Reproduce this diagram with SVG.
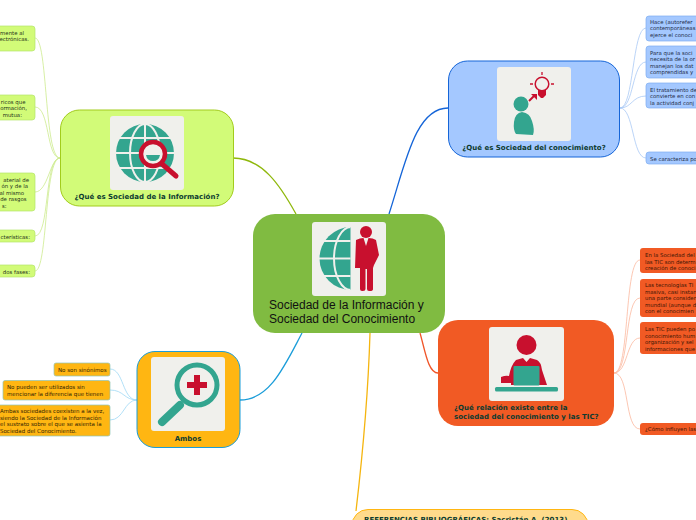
<svg xmlns="http://www.w3.org/2000/svg" width="696" height="520" viewBox="0 0 696 520">
<style>
text{font-family:"DejaVu Sans",Verdana,sans-serif}
.t{font-size:7px;font-weight:bold;fill:#0d3b30}
.k{font-size:5.4px;fill:#263218}
.kb{font-size:5.4px;fill:#222c48}
.ko{font-size:5.4px;fill:#3e1604}
.ka{font-size:5.5px;fill:#332503}
.m{font-family:"Liberation Sans",Arial,sans-serif;font-size:12px;fill:#111}
.c{fill:none;stroke-width:1.3}
.p{fill:none;stroke-width:.8}
.bg{fill:#f0f0ec}
.te{fill:#33a58f}
.re{fill:#c8102e}
.ln{fill:none;stroke:#f0f0ec}
.kg{fill:#d2fb78;stroke:#b5e56a;stroke-width:.7}
.kl{fill:#a4c8ff;stroke:#7eaef0;stroke-width:.7}
.kr{fill:#f15a24}
.ky{fill:#ffb612;stroke:#8fc4b8;stroke-width:.7}
</style>
<defs>
<clipPath id="gc2"><path d="M312 222H350.500V296H312Z"/></clipPath>
</defs>
<rect width="696" height="520" fill="#fff"/>
<g id="connectors">
<path class="c" stroke="#8fb80c" d="M296 214C280 185 262 158 233 158"/>
<path class="c" stroke="#1565d8" d="M389 214C405 165 415 108 448 108"/>
<path class="c" stroke="#1b9dd9" d="M302 333C285 365 270 400 240 400"/>
<path class="c" stroke="#f5b50f" d="M370 333C368 400 362 460 356 511"/>
<path class="c" stroke="#f0562a" d="M420 333C425 350 428 373 438 373"/>
<g stroke="#cdeb8e">
<path class="p" d="M60 158C44 158 48 38 35 38"/>
<path class="p" d="M60 158C46 158 50 107 35 107"/>
<path class="p" d="M60 158C50 158 48 192 35 192"/>
<path class="p" d="M60 158C44 158 50 236 35 236"/>
<path class="p" d="M60 158C44 158 48 271 35 271"/>
</g>
<g stroke="#9ed8f5">
<path class="p" d="M137 400C122 400 124 369 110 369"/>
<path class="p" d="M137 400C124 400 124 390 110 390"/>
<path class="p" d="M137 400C124 400 124 420 110 420"/>
</g>
<g stroke="#a9c9f5">
<path class="p" d="M620 108C634 108 632 28 646 28"/>
<path class="p" d="M620 108C634 108 632 62 646 62"/>
<path class="p" d="M620 108C632 108 632 96 646 96"/>
<path class="p" d="M620 108C634 108 632 158 646 158"/>
</g>
<g stroke="#fbb9a0">
<path class="p" d="M614 373C630 373 624 260 640 260"/>
<path class="p" d="M614 373C630 373 624 298 640 298"/>
<path class="p" d="M614 373C628 373 626 338 640 338"/>
<path class="p" d="M614 373C630 373 624 429 640 429"/>
</g>
</g>
<g id="center">
<rect x="253" y="214" width="192" height="119" rx="22" fill="#80bb41"/>
<rect class="bg" x="312" y="222" width="74" height="74" rx="3"/>
<g clip-path="url(#gc2)">
<circle class="te" cx="351" cy="258.500" r="31.500"/>
<ellipse class="ln" cx="351" cy="258.500" rx="17" ry="31.500" stroke-width="2"/>
<path class="ln" stroke-width="2" d="M315 241H351M315 258.500H351M315 276H351"/>
</g>
<circle class="re" cx="366" cy="232" r="6"/>
<path class="re" d="M356 240Q360 238 363.500 238L366 246 368.500 238Q373 238 376 240L379 255 374 265 373 268V289Q373 291 370 291H369Q367 291 367 289V269H365.500V289Q365.500 291 363 291H362Q360 291 360 289V268H355Z"/>
<text class="m" x="269" y="309">Sociedad de la Información y</text>
<text class="m" x="269" y="323">Sociedad del Conocimiento</text>
</g>
<g id="info">
<rect x="60.500" y="110" width="173" height="96" rx="19" fill="#d2fb78" stroke="#a2cc1c"/>
<rect class="bg" x="110" y="116" width="74" height="74" rx="3"/>
<circle class="te" cx="145" cy="153" r="29"/>
<ellipse class="ln" cx="145" cy="153" rx="15" ry="29" stroke-width="2"/>
<path class="ln" stroke-width="2" d="M145 124V182M116 138H174M116 153H174M116 168H174"/>
<circle cx="153" cy="154" r="12" fill="#f0f0ec" stroke="#c8102e" stroke-width="4.500"/>
<path d="M146 155H160Q159 161 153 161Q147 161 146 155Z" fill="#33a58f"/>
<path d="M162 164L176 176" stroke="#c8102e" stroke-width="5" stroke-linecap="round"/>
<text class="t" x="147" y="199" text-anchor="middle">¿Qué es Sociedad de la Información?</text>
</g>
<g id="info-1"><rect class="kg" x="-10" y="26" width="45" height="25" rx="3"/>
<text class="k" text-anchor="end" x="24" y="35">mente al</text><text class="k" text-anchor="end" x="29" y="40.500">ectrónicas.</text></g>
<g id="info-2"><rect class="kg" x="-10" y="95" width="45" height="25" rx="3"/>
<text class="k" text-anchor="end" x="25.500" y="104">ricos que</text><text class="k" text-anchor="end" x="27" y="110">ormación,</text><text class="k" text-anchor="end" x="22" y="116.500">mutua:</text></g>
<g id="info-3"><rect class="kg" x="-10" y="173" width="45" height="38" rx="3"/>
<text class="k" text-anchor="end" x="29" y="181.500">aterial de</text><text class="k" text-anchor="end" x="28" y="188">ón y de la</text><text class="k" text-anchor="end" x="24" y="194.500">al mismo</text><text class="k" text-anchor="end" x="26.500" y="201">de rasgos</text><text class="k" text-anchor="end" x="6.500" y="207.500">s:</text></g>
<g id="info-4"><rect class="kg" x="-10" y="230" width="45" height="12" rx="3"/>
<text class="k" text-anchor="end" x="30" y="238.500">cterísticas:</text></g>
<g id="info-5"><rect class="kg" x="-10" y="265" width="45" height="12" rx="3"/>
<text class="k" text-anchor="end" x="30" y="274">dos fases:</text></g>
<g id="know">
<rect x="448.500" y="61" width="171" height="96" rx="19" fill="#a4c8ff" stroke="#1565d8"/>
<rect class="bg" x="497" y="67" width="74" height="74" rx="3"/>
<circle class="te" cx="521" cy="104" r="7.500"/>
<path class="te" d="M522 112Q530 113 532 121Q535 130 533 135L516 134Q513 130 514 122Q515 113 522 112Z"/>
<circle cx="542" cy="84" r="6.800" fill="none" stroke="#c8102e" stroke-width="1.500"/>
<path class="re" d="M538 90H546V95L543 98H541L538 95Z"/>
<path stroke="#c8102e" stroke-width="1.300" d="M542 72V75M530 84H533M551 84H554"/>
<path stroke="#c8102e" stroke-width="2" d="M529 101L534 96"/>
<path class="re" d="M531 94H537V100Z"/>
<text class="t" x="534" y="150" text-anchor="middle">¿Qué es Sociedad del conocimiento?</text>
</g>
<g id="know-1"><rect class="kl" x="646" y="16" width="60" height="25" rx="3"/>
<text class="kb" x="650" y="24">Hace (autorefer</text><text class="kb" x="650" y="30">contemporáneas</text><text class="kb" x="650" y="36.500">ejerce el conoci</text></g>
<g id="know-2"><rect class="kl" x="646" y="46" width="60" height="32" rx="3"/>
<text class="kb" x="650" y="54.500">Para que la soci</text><text class="kb" x="650" y="61">necesita de la or</text><text class="kb" x="650" y="67.500">manejan los dat</text><text class="kb" x="650" y="74">comprendidas y</text></g>
<g id="know-3"><rect class="kl" x="646" y="83" width="60" height="25" rx="3"/>
<text class="kb" x="650" y="92">El tratamiento de</text><text class="kb" x="650" y="98">convierte en con</text><text class="kb" x="650" y="105">la actividad conj</text></g>
<g id="know-4"><rect class="kl" x="646" y="152" width="60" height="12" rx="3"/>
<text class="kb" x="650" y="161">Se caracteriza po</text></g>
<g id="tic">
<rect x="438" y="320" width="176" height="106" rx="20" fill="#f15a24"/>
<rect class="bg" x="489" y="327" width="75" height="74" rx="3"/>
<circle class="re" cx="526.500" cy="345" r="10"/>
<path class="re" d="M516 360L523 358 526.500 362 530 358 537 360Q541 362 542 370L547 385H511V383H501V377Q506 375 509 376Q511 365 516 360Z"/>
<rect class="te" x="513.500" y="366" width="26" height="19.500" rx="1"/>
<rect class="te" x="495" y="387" width="63" height="4.500" rx="1.500"/>
<text class="t" x="454" y="409.500">¿Qué relación existe entre la</text>
<text class="t" x="454" y="418.500">sociedad del conocimiento y las TIC?</text>
</g>
<g id="tic-1"><rect class="kr" x="640" y="248" width="66" height="25" rx="3"/>
<text class="ko" x="645" y="257">En la Sociedad del</text><text class="ko" x="645" y="263.500">las TIC son determ</text><text class="ko" x="645" y="270">creación de conoci</text></g>
<g id="tic-2"><rect class="kr" x="640" y="279" width="66" height="38" rx="3"/>
<text class="ko" x="645" y="287">Las tecnologías TI</text><text class="ko" x="645" y="293.500">masiva, casi instan</text><text class="ko" x="645" y="300">una parte consider</text><text class="ko" x="645" y="306.500">mundial (aunque d</text><text class="ko" x="645" y="313">con el conocimien</text></g>
<g id="tic-3"><rect class="kr" x="640" y="322" width="66" height="32" rx="3"/>
<text class="ko" x="645" y="331">Las TIC pueden po</text><text class="ko" x="645" y="337.500">conocimiento hum</text><text class="ko" x="645" y="344">organización y sel</text><text class="ko" x="645" y="350.500">informaciones que</text></g>
<g id="tic-4"><rect class="kr" x="640" y="423" width="66" height="12" rx="3"/>
<text class="ko" x="645" y="431">¿Cómo influyen las</text></g>
<g id="ambos">
<rect x="137" y="351.500" width="103" height="96" rx="18" fill="#ffb612" stroke="#1b9dd9"/>
<rect class="bg" x="151" y="357" width="74" height="74" rx="3"/>
<circle cx="197" cy="385" r="20" fill="none" stroke="#33a58f" stroke-width="5"/>
<path class="re" d="M194 375H200V382H207V388H200V395H194V388H187V382H194Z"/>
<path d="M180 405L162 422" stroke="#33a58f" stroke-width="8" stroke-linecap="round"/>
<text class="t" x="188" y="441" text-anchor="middle">Ambos</text>
</g>
<g id="ambos-1"><rect class="ky" x="54" y="363" width="56" height="13" rx="2"/>
<text class="ka" x="58" y="372">No son sinónimos</text></g>
<g id="ambos-2"><rect class="ky" x="3" y="380.500" width="107" height="19.500" rx="2"/>
<text class="ka" x="7" y="389">No pueden ser utilizados sin</text><text class="ka" x="7" y="396">mencionar la diferencia que tienen</text></g>
<g id="ambos-3"><rect class="ky" x="-5" y="405" width="115" height="31" rx="2"/>
<text class="ka" x="0" y="413">Ambas sociedades coexisten a la vez,</text><text class="ka" x="0" y="419.500">siendo la Sociedad de la Información</text><text class="ka" x="0" y="426">el sustrato sobre el que se asienta la</text><text class="ka" x="0" y="432.500">Sociedad del Conocimiento.</text></g>
<g id="refs">
<rect x="352" y="509.500" width="236" height="40" rx="16" fill="#ffdb8c" stroke="#ffb612"/>
<text class="t" x="364" y="522">REFERENCIAS BIBLIOGRÁFICAS: Sacristán A. (2013)</text>
</g>
</svg>
